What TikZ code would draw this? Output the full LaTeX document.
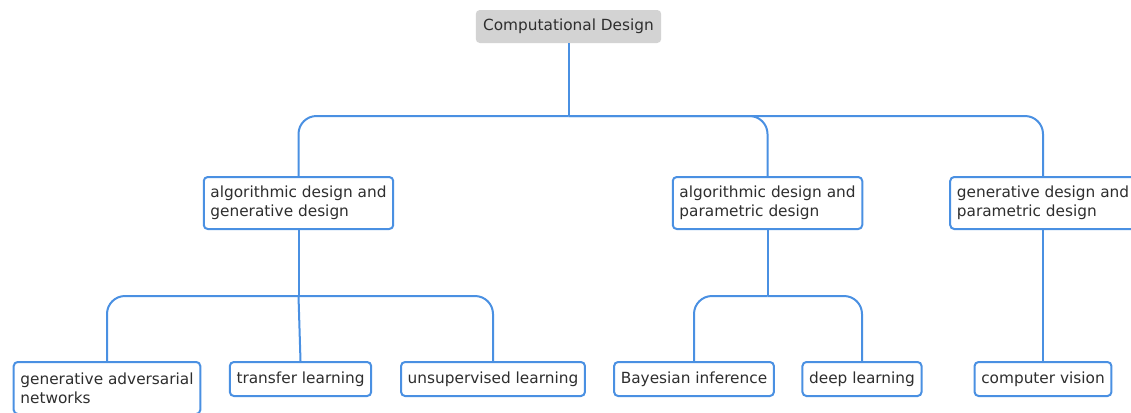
\documentclass[tikz,border=0pt]{standalone}
\usepackage{fontspec}
\setmainfont{DejaVu Sans}
\usetikzlibrary{positioning}
\definecolor{linkblue}{HTML}{4A90E2}
\definecolor{textgray}{HTML}{2E2E2E}
\definecolor{rootgray}{HTML}{D3D3D3}
\tikzset{
  root/.style={rectangle, rounded corners=3pt, fill=rootgray, text=textgray, inner xsep=5.5pt, minimum height=24.75pt},
  topic/.style={rectangle, rounded corners=3pt, draw=linkblue, line width=1.5pt, fill=white, text=textgray, align=left, inner xsep=5pt, minimum height=39pt},
  leaf/.style={topic, minimum height=25.5pt},
  link/.style={draw=linkblue, line width=1.5pt, rounded corners=13.5pt}
}

\begin{document}
\begin{tikzpicture}[x=0.75pt, y=-0.75pt, font=\fontsize{11.5}{14.25}\selectfont]

  \useasboundingbox (0,0) rectangle (1131,412);
  \clip (0,0) rectangle (1131,412);

  % Root node
  \node (root) [root] at (568.5,26.5) {Computational Design};

  % First level
  \node (a) [topic] at (298.5,203) {algorithmic design and\\generative design};
  \node (b) [topic] at (767.5,203) {algorithmic design and\\parametric design};
  \node (c) [topic] at (1043,203) {generative design and\\parametric design};

  % Second level
  \node (gan) [topic] at (107,388) {generative adversarial\\networks};
  \node (transfer) [leaf] at (300.5,379) {transfer learning};
  \node (unsup) [leaf] at (493,379) {unsupervised learning};
  \node (bayes) [leaf] at (694,379) {Bayesian inference};
  \node (deep) [leaf] at (862,379) {deep learning};
  \node (vision) [leaf] at (1043,379) {computer vision};

  % Bus points
  \coordinate (bus1) at (568.5,116);
  \coordinate (bus2) at (298.5,296);
  \coordinate (bus3) at (767.5,296);

  % Connections from root
  \draw [link] (root.south) -- (bus1);
  \foreach \n in {a,b,c}
    \draw [link] (bus1) -| (\n.north);

  % Connections from first level
  \draw [link] (a.south) -- (bus2);
  \foreach \n in {gan,unsup}
    \draw [link] (bus2) -| (\n.north);
  \draw [link] (bus2) -- (transfer.north);

  \draw [link] (b.south) -- (bus3);
  \foreach \n in {bayes,deep}
    \draw [link] (bus3) -| (\n.north);

  \draw [link] (c.south) -- (vision.north);
\end{tikzpicture}
\end{document}
